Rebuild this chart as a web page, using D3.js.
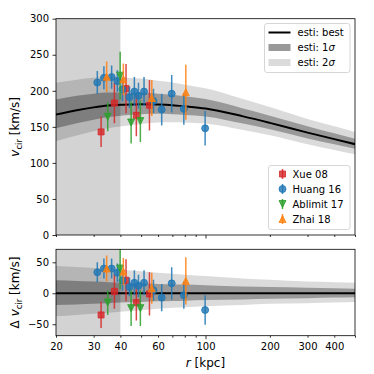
<!DOCTYPE html>
<html>
<head>
<meta charset="utf-8">
<script src="https://d3js.org/d3.v7.min.js"></script>
<style>
    body { margin: 0; background: #fff; }
    svg { font-family: "DejaVu Sans", sans-serif; }
</style>
</head>
<body>
<div id="chart"></div>
<script>
'use strict';

// best-fit curve and band offsets (relative to best)
const bestR = [20, 25, 30, 35, 40, 50, 60, 70, 80, 100, 150, 200, 300, 400, 500];
const bestV = [167, 173, 177, 179.5, 180.5, 181.5, 181, 180, 178.5, 175.5, 164.5, 155.5, 142, 133, 126];
const up2 = [44, 42.5, 41, 39.5, 38, 35.5, 33, 31.5, 30, 28, 24, 22, 19, 18, 17];
const up1 = [21, 20, 19, 18, 17, 16, 15, 14.5, 14, 13, 11, 10, 9, 8, 7.5];
const dn1 = [-19, -18, -17, -16, -15, -14, -13, -12.5, -12, -11, -10, -9, -8, -7, -6.5];
const dn2 = [-37, -35, -33, -31.5, -30, -27.5, -25, -23.5, -22.5, -21, -19, -17, -16, -15, -14];

// observations
const xueR = [32.5, 37.5, 42.5, 47.5, 54.7];
const xueV = [143, 183, 203, 166, 180];
const xueErr = [21, 28, 34, 29, 35];
const xueDv = [-35, 3, 21, -15, -1];

const huangR = [31.2, 33.5, 36.4, 38.7, 40.9, 44.1, 46.5, 48.6, 51.6, 57.1, 62.4, 69.5, 79.2, 99.6];
const huangV = [211.5, 218, 219, 213.5, 202, 191, 199, 193, 199, 186, 174, 196, 175, 148];
const huangErr = [16, 16, 16, 15, 17, 15, 20, 18, 20, 17, 22, 26, 22, 24];
const huangDv = [34, 40, 40, 33, 21, 10, 17, 12, 17, 5, -7, 16, -3, -27];

const ablR = [34.9, 39.9, 44.9, 49.6];
const ablV = [164, 221, 156, 158];
const ablErr = [20, 33, 29, 29];
const ablDv = [-15, 40, -24, -24];

const zhaiR = [34.5, 41.3, 56.1, 80.9];
const zhaiV = [219.5, 216, 190, 198];
const zhaiErr = [21, 22, 25, 38];
const zhaiDv = [40, 35, 8, 20];

const xTickVals = [20, 30, 40, 60, 100, 200, 300, 400];
const xMinorVals = [50, 70, 80, 90, 500];
const yTopTicks = [0, 50, 100, 150, 200, 250, 300];
const yBotTicks = [-50, 0, 50];

const series = [
    { name: "Xue 08", r: xueR, v: xueV, e: xueErr, dv: xueDv, color: "#d62728", marker: "square" },
    { name: "Huang 16", r: huangR, v: huangV, e: huangErr, dv: huangDv, color: "#1f77b4", marker: "circle" },
    { name: "Ablimit 17", r: ablR, v: ablV, e: ablErr, dv: ablDv, color: "#2ca02c", marker: "down" },
    { name: "Zhai 18", r: zhaiR, v: zhaiV, e: zhaiErr, dv: zhaiDv, color: "#ff7f0e", marker: "up" }
];

const W = 374, H = 374;
const left = 56, right = 355;
const top1 = 18.7, bot1 = 235;
const top2 = 249.3, bot2 = 335.7;

const svg = d3.select("#chart").append("svg")
    .attr("width", W).attr("height", H);

const x = d3.scaleLog().domain([20, 500]).range([left, right]);
const yTop = d3.scaleLinear().domain([0, 300]).range([bot1, top1]);
const yBot = d3.scaleLinear().domain([-68.5, 71]).range([bot2, top2]);

const markerPath = (type, s) => {
    const h = s / 2;
    if (type === "square") return `M${-h},${-h}H${h}V${h}H${-h}Z`;
    if (type === "down") return `M${-h},${-h}L${h},${-h}L0,${h}Z`;
    if (type === "up") return `M${-h},${h}L${h},${h}L0,${-h}Z`;
    return d3.symbol(d3.symbolCircle, Math.PI * h * h)();
}

// one panel: shaded region, bands, curve, points, axes
const drawPanel = (id, y, yTicks, yTop0, yBot0, resid) => {
    const clip = svg.append("clipPath").attr("id", id)
        .append("rect").attr("x", left).attr("y", yTop0)
        .attr("width", right - left).attr("height", yBot0 - yTop0);

    const g = svg.append("g").attr("clip-path", "url(#" + id + ")");

    g.append("rect")
        .attr("x", x(20)).attr("y", yTop0)
        .attr("width", x(40) - x(20)).attr("height", yBot0 - yTop0)
        .attr("fill", "#808080").attr("fill-opacity", 0.35);

    const base = (i) => resid ? 0 : bestV[i];
    const band = (lo, hi) => d3.area()
        .x((d, i) => x(bestR[i]))
        .y0((d, i) => y(base(i) + lo[i]))
        .y1((d, i) => y(base(i) + hi[i]))
        .curve(d3.curveMonotoneX);

    g.append("path").datum(bestR).attr("d", band(dn2, up2))
        .attr("fill", "#000").attr("fill-opacity", 0.14);
    g.append("path").datum(bestR).attr("d", band(dn1, up1))
        .attr("fill", "#000").attr("fill-opacity", 0.3);

    g.append("path").datum(bestR)
        .attr("d", d3.line()
            .x((d, i) => x(bestR[i]))
            .y((d, i) => y(base(i)))
            .curve(d3.curveMonotoneX))
        .attr("fill", "none").attr("stroke", "#000").attr("stroke-width", 2);

    series.forEach((s) => {
        const vals = resid ? s.dv : s.v;
        const sg = g.append("g");
        sg.selectAll("line").data(s.r).enter().append("line")
            .attr("x1", (d) => x(d)).attr("x2", (d) => x(d))
            .attr("y1", (d, i) => y(vals[i] - s.e[i]))
            .attr("y2", (d, i) => y(vals[i] + s.e[i]))
            .attr("stroke", s.color).attr("stroke-width", 1.5).attr("stroke-opacity", 0.85);
        sg.selectAll("path").data(s.r).enter().append("path")
            .attr("d", markerPath(s.marker, s.marker === "square" ? 6 : 7))
            .attr("transform", (d, i) => "translate(" + x(d) + "," + y(vals[i]) + ")")
            .attr("fill", s.color).attr("fill-opacity", 0.8)
            .attr("stroke", s.color).attr("stroke-width", 1).attr("stroke-opacity", 0.8);
    });

    // axes
    const yAxis = svg.append("g").attr("transform", "translate(" + left + ",0)")
        .call(d3.axisLeft(y).tickValues(yTicks).tickSize(3.5).tickPadding(3.5)
            .tickFormat((d) => d < 0 ? "\u2212" + Math.abs(d) : d));
    yAxis.select(".domain").remove();

    const xAxis = svg.append("g").attr("transform", "translate(0," + yBot0 + ")")
        .call(d3.axisBottom(x).tickValues(xTickVals).tickSize(2).tickPadding(5)
            .tickFormat((d) => resid ? d : ""));
    xAxis.select(".domain").remove();
    xAxis.selectAll(".tick line").filter((d) => d === 100).attr("y2", 3.5);
    const xMinor = svg.append("g").attr("transform", "translate(0," + yBot0 + ")")
        .call(d3.axisBottom(x).tickValues(xMinorVals).tickSize(2).tickFormat(""));
    xMinor.select(".domain").remove();

    svg.selectAll(".tick text").attr("font-size", 10).attr("fill", "#000")
        .attr("font-family", "DejaVu Sans");
    svg.selectAll(".tick line").attr("stroke", "#000").attr("stroke-width", 0.8);

    svg.append("rect").attr("x", left).attr("y", yTop0)
        .attr("width", right - left).attr("height", yBot0 - yTop0)
        .attr("fill", "none").attr("stroke", "#000").attr("stroke-width", 0.8);
}

drawPanel("clipTop", yTop, yTopTicks, top1, bot1, false);
drawPanel("clipBot", yBot, yBotTicks, top2, bot2, true);

// axis labels
const ylab = (cx, cy, delta) => {
    const t = svg.append("text")
        .attr("transform", "translate(" + cx + "," + cy + ") rotate(-90)")
        .attr("text-anchor", "middle").attr("font-size", 12);
    if (delta) t.append("tspan").text("\u0394 ");
    t.append("tspan").attr("font-style", "italic").text("v");
    t.append("tspan").attr("font-size", 8.5).attr("dy", 3).text("cir");
    t.append("tspan").attr("dy", -3).text(" [km/s]");
}
ylab(19, (top1 + bot1) / 2, false);
ylab(19, (top2 + bot2) / 2, true);

const xl = svg.append("text").attr("x", (left + right) / 2).attr("y", 367)
    .attr("text-anchor", "middle").attr("font-size", 12);
xl.append("tspan").attr("font-style", "italic").text("r");
xl.append("tspan").text(" [kpc]");

// legend for the fit
const leg1 = svg.append("g").attr("transform", "translate(264.5,23.5)");
leg1.append("rect").attr("width", 85.5).attr("height", 49).attr("rx", 2.5)
    .attr("fill", "#fff").attr("fill-opacity", 0.8).attr("stroke", "#cccccc").attr("stroke-width", 0.8);
leg1.append("line").attr("x1", 4).attr("x2", 26).attr("y1", 9).attr("y2", 9)
    .attr("stroke", "#000").attr("stroke-width", 2);
leg1.append("rect").attr("x", 4).attr("y", 20.5).attr("width", 22).attr("height", 7)
    .attr("fill", "#000").attr("fill-opacity", 0.4);
leg1.append("rect").attr("x", 4).attr("y", 35.5).attr("width", 22).attr("height", 7)
    .attr("fill", "#000").attr("fill-opacity", 0.14);
const legText = ["best", "1", "2"];
legText.forEach((t, i) => {
    const tx = leg1.append("text").attr("x", 33).attr("y", 12.5 + i * 15).attr("font-size", 10);
    if (i === 0) tx.text("esti: best");
    else {
        tx.append("tspan").text("esti: " + t);
        tx.append("tspan").attr("font-style", "italic").text("\u03c3");
    }
});

// legend for the data
const leg2 = svg.append("g").attr("transform", "translate(268.5,165.5)");
leg2.append("rect").attr("width", 81.5).attr("height", 64).attr("rx", 2.5)
    .attr("fill", "#fff").attr("fill-opacity", 0.8).attr("stroke", "#cccccc").attr("stroke-width", 0.8);
series.forEach((s, i) => {
    const cy = 8.5 + i * 15;
    leg2.append("line").attr("x1", 14).attr("x2", 14).attr("y1", cy - 5).attr("y2", cy + 5)
        .attr("stroke", s.color).attr("stroke-width", 1.5).attr("stroke-opacity", 0.85);
    leg2.append("path").attr("d", markerPath(s.marker, s.marker === "square" ? 6 : 7))
        .attr("transform", "translate(14," + cy + ")")
        .attr("fill", s.color).attr("fill-opacity", 0.8)
        .attr("stroke", s.color).attr("stroke-width", 1).attr("stroke-opacity", 0.8);
    leg2.append("text").attr("x", 24).attr("y", cy + 3.6).attr("font-size", 10).text(s.name);
});
</script>
</body>
</html>
